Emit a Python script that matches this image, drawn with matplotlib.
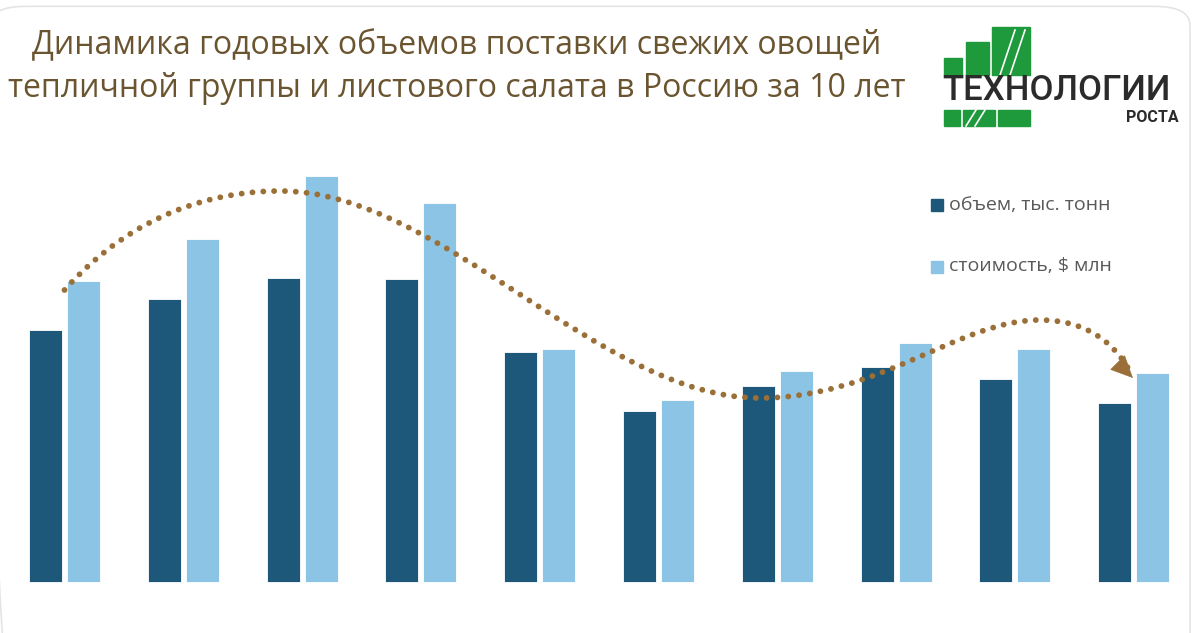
import matplotlib.pyplot as plt
from matplotlib.patches import Rectangle, FancyBboxPatch, FancyArrowPatch, PathPatch
from matplotlib.path import Path

years = list(range(10))
volume = [252, 283, 304, 303, 230, 171, 196, 215, 203, 179]      # объем, тыс. тонн
cost = [301, 343, 406, 379, 233, 182, 211, 239, 233, 209]        # стоимость, $ млн

# trend curve control points (group index, value)
trend_x = [0.0, 0.6, 1.3, 1.82, 3.16, 4.51, 5.85, 6.86, 7.53, 8.21, 8.63, 8.86, 8.99]
trend_y = [292, 372, 391, 391, 391, 184, 184, 184, 262, 262, 262, 236, 206]
head_from = (8.91, 214)
head_to = (9.01, 202)

title = ("Динамика годовых объемов поставки свежих овощей\n"
         "тепличной группы и листового салата в Россию за 10 лет")
labels = ["объем, тыс. тонн", "стоимость, $ млн"]

dark = "#1d5779"
light = "#8cc4e6"
brown = "#9a7038"

fig = plt.figure(figsize=(11.96, 6.33), dpi=100)
ax = fig.add_axes([0, 0, 1, 1])
step = 118.8
ax.set_xlim(-64.5 / step, (1196 - 64.5) / step)
ax.set_ylim(-(633 - 582), 582)
ax.axis("off")

w = 0.278
ax.bar([x - 0.16 for x in years], volume, width=w, color=dark, edgecolor="white", linewidth=0.6)
ax.bar([x + 0.16 for x in years], cost, width=w, color=light, edgecolor="white", linewidth=0.6)

# dotted trend line + solid arrow head
codes = [Path.MOVETO] + [Path.CURVE4] * (len(trend_x) - 1)
path = Path(list(zip(trend_x, trend_y)), codes)
ax.add_patch(PathPatch(path, fill=False, edgecolor=brown, linestyle=(0, (0.01, 1.85)),
                       linewidth=4.2, capstyle="round"))
ax.add_patch(FancyArrowPatch(head_from, head_to, arrowstyle="-|>,head_length=15,head_width=7",
                             color=brown, linewidth=0.5, mutation_scale=1))

# legend
for i, (lab, c) in enumerate(zip(labels, [dark, light])):
    y = 0.676 - i * 0.097
    fig.patches.append(Rectangle((931 / 1196, y - 0.0095), 12 / 1196, 12 / 633,
                                 transform=fig.transFigure, color=c))
    fig.text(949 / 1196, y, lab, fontsize=14, color="#595959",
             family="Open Sans", va="center", ha="left")

# title
fig.text(457 / 1196, 1 - 67 / 633, title, fontsize=23, color="#6b5530",
         family="Open Sans", ha="center", va="center", linespacing=1.4)

# frame
fig.patches.append(FancyBboxPatch((-10 / 1196, -0.2), 1200 / 1196, 1.19,
                                  boxstyle="round,pad=0,rounding_size=0.03",
                                  transform=fig.transFigure, fill=False,
                                  edgecolor="#e4e4e4", linewidth=1.2))

# logo
green = "#1e9a3c"
for (x0, y0, x1, y1) in [(944, 58, 962, 75), (966, 42, 989, 75), (992, 27, 1030, 75),
                         (944, 110, 960, 126), (963, 110, 995, 126), (998, 110, 1030, 126)]:
    fig.patches.append(Rectangle((x0 / 1196, 1 - y1 / 633), (x1 - x0) / 1196, (y1 - y0) / 633,
                                 transform=fig.transFigure, color=green))
for xs in [(1000, 1015), (1010, 1025)]:
    fig.lines.append(plt.Line2D([xs[0] / 1196, xs[1] / 1196], [1 - 75 / 633, 1 - 30 / 633],
                                transform=fig.transFigure, color="white", linewidth=1.2))
for xs in [(966, 976), (975, 985)]:
    fig.lines.append(plt.Line2D([xs[0] / 1196, xs[1] / 1196], [1 - 126 / 633, 1 - 110 / 633],
                                transform=fig.transFigure, color="white", linewidth=1.2))
fig.text(1056 / 1196, 1 - 91 / 633, "ТЕХНОЛОГИИ", fontsize=25, color="#2b2b2b",
         family="Roboto", weight="medium", ha="center", va="center")
fig.text(1179 / 1196, 1 - 118 / 633, "РОСТА", fontsize=11.5, color="#2b2b2b",
         family="Roboto", weight="bold", ha="right", va="center")

fig.savefig("out.png", dpi=100)
